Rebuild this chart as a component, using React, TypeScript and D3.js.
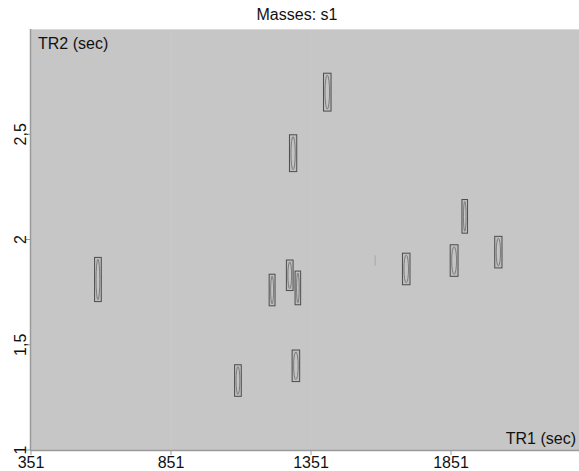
import * as d3 from "d3";
import { useEffect, useRef } from "react";

// peak centres (TR1 sec, TR2 sec) with their extents
const peakTR1 = [590, 1409, 1287, 1212, 1275, 1304, 1297, 1090, 1900, 1691, 1862, 2020];
const peakTR2 = [1.81, 2.7, 2.41, 1.76, 1.83, 1.77, 1.4, 1.33, 2.11, 1.86, 1.9, 1.94];
const peakWidth = [24, 27, 26, 21, 24, 20, 27, 24, 20, 27, 28, 26];
const peakHeight = [0.21, 0.18, 0.175, 0.15, 0.145, 0.16, 0.15, 0.15, 0.16, 0.15, 0.15, 0.15];

// faint trace
const traceTR1 = [1580];
const traceTR2 = [1.9];

const xTicks = [351, 851, 1351, 1851];
const yTicks = [1, 1.5, 2, 2.5];

const width = 579;
const height = 471;
const margin = { top: 29, right: 0, bottom: 21, left: 31 };
const font = "'Liberation Sans', Arial, sans-serif";

export default function App() {
  const svgRef = useRef<SVGSVGElement | null>(null);

  useEffect(() => {
    if (!svgRef.current) return;
    const svg = d3.select(svgRef.current);
    svg.selectAll("*").remove();

    const x = d3.scaleLinear().domain([351, 2308]).range([margin.left, width - margin.right]);
    const y = d3.scaleLinear().domain([1, 3]).range([height - margin.bottom, margin.top]);
    const fmt = (v: number) => String(v).replace(".", ",");

    svg
      .append("rect")
      .attr("x", x(351))
      .attr("y", y(3))
      .attr("width", x(2308) - x(351))
      .attr("height", y(1) - y(3))
      .attr("fill", "#c6c6c6");

    svg
      .append("g")
      .selectAll("line")
      .data(xTicks.slice(1))
      .join("line")
      .attr("x1", (d) => x(d))
      .attr("x2", (d) => x(d))
      .attr("y1", y(3))
      .attr("y2", y(1))
      .attr("stroke", "#c9c9c9")
      .attr("stroke-width", 1);

    // borders
    svg.append("line").attr("x1", x(351)).attr("x2", width).attr("y1", y(3) + 0.5).attr("y2", y(3) + 0.5).attr("stroke", "#dadada");
    svg.append("line").attr("x1", x(351) - 0.5).attr("x2", x(351) - 0.5).attr("y1", y(3)).attr("y2", y(1)).attr("stroke", "#9a9a9a").attr("stroke-width", 1.5);
    svg.append("line").attr("x1", x(351) - 1).attr("x2", width).attr("y1", y(1) + 0.5).attr("y2", y(1) + 0.5).attr("stroke", "#9a9a9a").attr("stroke-width", 1.5);

    const xAxis = svg.append("g");
    xAxis
      .selectAll("line")
      .data(xTicks)
      .join("line")
      .attr("x1", (d) => x(d))
      .attr("x2", (d) => x(d))
      .attr("y1", y(1))
      .attr("y2", y(1) + 5)
      .attr("stroke", "#9a9a9a");
    xAxis
      .selectAll("text")
      .data(xTicks)
      .join("text")
      .attr("x", (d) => x(d))
      .attr("y", y(1) + 18)
      .attr("text-anchor", "middle")
      .attr("font-family", font)
      .attr("font-size", 16)
      .attr("fill", "#111")
      .text((d) => String(d));

    const yAxis = svg.append("g");
    yAxis
      .selectAll("line")
      .data(yTicks)
      .join("line")
      .attr("x1", x(351) - 5)
      .attr("x2", x(351))
      .attr("y1", (d) => y(d))
      .attr("y2", (d) => y(d))
      .attr("stroke", "#9a9a9a");
    yAxis
      .selectAll("text")
      .data(yTicks)
      .join("text")
      .attr("transform", (d) => `translate(${x(351) - 5}, ${y(d)}) rotate(-90)`)
      .attr("text-anchor", "middle")
      .attr("font-family", font)
      .attr("font-size", 16)
      .attr("fill", "#111")
      .text((d) => fmt(d));

    const peaks = peakTR1.map((t1, i) => ({ t1, t2: peakTR2[i], w: peakWidth[i], h: peakHeight[i] }));
    const g = svg.append("g");
    const node = g
      .selectAll("g")
      .data(peaks)
      .join("g");
    node
      .append("rect")
      .attr("x", (d) => x(d.t1 - d.w / 2))
      .attr("y", (d) => y(d.t2 + d.h / 2))
      .attr("width", (d) => x(d.t1 + d.w / 2) - x(d.t1 - d.w / 2))
      .attr("height", (d) => y(d.t2 - d.h / 2) - y(d.t2 + d.h / 2))
      .attr("fill", "#bdbdbd")
      .attr("stroke", "#4d4d4d")
      .attr("stroke-width", 1);
    node
      .append("ellipse")
      .attr("cx", (d) => x(d.t1))
      .attr("cy", (d) => y(d.t2))
      .attr("rx", (d) => (x(d.t1 + d.w / 2) - x(d.t1 - d.w / 2)) / 2 - 1.5)
      .attr("ry", (d) => (y(d.t2 - d.h / 2) - y(d.t2 + d.h / 2)) / 2 - 2)
      .attr("fill", "#c4c4c4")
      .attr("stroke", "#6a6a6a")
      .attr("stroke-width", 0.8);

    svg
      .append("g")
      .selectAll("line")
      .data(traceTR1.map((t1, i) => ({ t1, t2: traceTR2[i] })))
      .join("line")
      .attr("x1", (d) => x(d.t1))
      .attr("x2", (d) => x(d.t1))
      .attr("y1", (d) => y(d.t2 + 0.025))
      .attr("y2", (d) => y(d.t2 - 0.025))
      .attr("stroke", "#a8a8a8")
      .attr("stroke-width", 1);

    svg
      .append("text")
      .attr("x", 297)
      .attr("y", 20)
      .attr("text-anchor", "middle")
      .attr("font-family", font)
      .attr("font-size", 16)
      .attr("fill", "#111")
      .text("Masses: s1");

    svg
      .append("text")
      .attr("x", 38)
      .attr("y", 49)
      .attr("font-family", font)
      .attr("font-size", 16)
      .attr("fill", "#111")
      .text("TR2 (sec)");

    svg
      .append("text")
      .attr("x", width - 3)
      .attr("y", 444)
      .attr("text-anchor", "end")
      .attr("font-family", font)
      .attr("font-size", 16)
      .attr("fill", "#111")
      .text("TR1 (sec)");
  }, []);

  return (
    <svg
      ref={svgRef}
      width={width}
      height={height}
      style={{ position: "absolute", left: 0, top: 0, background: "#fff" }}
    />
  );
}
